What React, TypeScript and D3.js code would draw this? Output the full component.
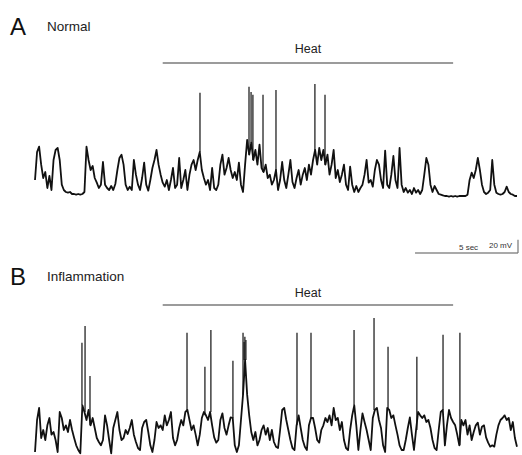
import React from "react";
import * as d3 from "d3";

// Sampling interval of the slow traces (s)
const DT = 0.1;

// Panel A (Normal): membrane trace sampled every 0.1 s (mV above rest)
const traceA: number[] = [
  24, 66, 74, 47, 27, 36, 12, 30, 9, 54, 69, 72, 54, 17, 9, 6, 5, 6, 3, 3,
  2, 3, 2, 3, 6, 74, 54, 39, 45, 27, 20, 12, 17, 51, 17, 12, 9, 15, 9, 18,
  39, 57, 62, 47, 17, 9, 14, 9, 54, 32, 17, 9, 27, 50, 17, 8, 24, 42, 54, 69,
  47, 32, 20, 14, 24, 9, 24, 42, 12, 17, 57, 12, 24, 39, 9, 32, 47, 54, 39, 54,
  66, 39, 27, 17, 24, 9, 42, 12, 9, 17, 47, 62, 32, 42, 57, 39, 27, 36, 24, 50,
  17, 6, 47, 84, 62, 80, 54, 69, 47, 77, 42, 36, 47, 27, 32, 17, 24, 39, 9, 24,
  51, 24, 12, 32, 54, 21, 12, 27, 39, 17, 32, 42, 24, 47, 32, 54, 69, 47, 72, 54,
  69, 47, 62, 32, 47, 69, 27, 39, 21, 32, 47, 17, 9, 44, 17, 6, 15, 6, 12, 17,
  32, 54, 20, 24, 14, 39, 54, 47, 24, 12, 68, 17, 12, 32, 60, 24, 12, 72, 17, 6,
  12, 5, 9, 3, 12, 5, 9, 3, 9, 32, 57, 47, 17, 6, 15, 9, 3, 2, 1, 0,
  0, -1, 0, -1, 0, -1, 0, 0, 0, 0, 2, 24, 35, 27, 39, 57, 39, 17, 6, 3,
  5, 9, 54, 17, 5, 3, 2, 3, 6, 14, 6, 3, 2, 0, 0,
];

// Panel A action potentials: times (s) and peak values (mV)
const spikeTimesA: number[] = [8.01, 10.39, 10.49, 10.58, 11.07, 11.7, 13.59, 14.08];
const spikePeaksA: number[] = [155, 164, 156, 152, 152, 159, 168, 152];

// Panel B (Inflammation): membrane trace sampled every 0.1 s (mV above trough)
const traceB: number[] = [
  0, 48, 66, 21, 33, 18, 40, 51, 26, 30, 18, 0, 60, 51, 33, 40, 30, 48, 33, 21,
  10, 3, -2, 70, 60, 48, 63, 40, 51, 36, 21, 15, 10, 18, 55, 40, 18, -2, 36, 48,
  60, 33, 18, 21, 33, 27, 36, 48, 26, 15, 6, 3, 36, 45, 48, 30, 10, 0, 18, 45,
  36, 40, 33, 55, 40, 48, 60, 21, 10, 18, 36, 48, 40, 60, 63, 48, 33, 40, 26, 10,
  26, 51, 60, 55, 48, 60, 40, 22, 14, 18, 48, 58, 36, 26, 40, 52, 51, 10, 0, 10,
  48, 86, 138, 86, 55, 30, 18, 30, 10, 18, 33, 40, 26, 36, 18, 33, 15, 8, 6, 33,
  63, 66, 48, 33, 18, 6, 3, 40, 55, 36, 18, 8, 3, 40, 51, 51, 36, 18, 14, 33,
  40, 51, 45, 55, 40, 66, 48, 51, 33, 45, 18, 6, 3, 33, 55, 70, 40, 3, 33, 58,
  45, 33, 18, 3, 51, 63, 66, 48, 36, 10, 0, 66, 63, 51, 55, 40, 26, 10, 3, 3,
  18, 36, 52, 26, 3, 33, 60, 55, 51, 55, 45, 48, 36, 18, 6, 3, 33, 60, 63, 10,
  40, 63, 51, 45, 40, 26, 10, 48, 40, 48, 26, 40, 18, 30, 40, 44, 26, 38, 40, 22,
  14, 8, 10, 8, 26, 40, 48, 51, 55, 48, 51, 33, 45, 21, 8,
];

// Panel B action potentials: times (s) and peak values (mV)
const spikeTimesB: number[] = [
  2.28, 2.43, 2.67, 7.38, 8.25, 8.54, 9.61, 10.1, 10.15, 10.19, 10.24,
  12.72, 13.4, 15.49, 16.46, 17.14, 18.54, 19.81, 20.63,
];
const spikePeaksB: number[] = [
  164, 189, 114, 179, 128, 183, 137, 179, 165, 173, 168,
  179, 179, 183, 201, 158, 143, 176, 179,
];

// Stimulus period (s) and scale bar values
const heatStart = 6.2;
const heatEnd = 20.3;
const scaleBarSec = 5;
const scaleBarMv = 20;

type Pt = { t: number; v: number };

function samplesToPts(samples: number[]): Pt[] {
  return samples.map((v, i) => ({ t: i * DT, v }));
}

function spikeBase(samples: number[], t: number): number {
  const i = Math.max(0, Math.min(samples.length - 1, Math.round(t / DT)));
  return samples[i];
}

const W = 522;
const H = 455;

export default function App() {
  const tMax = 23.45;
  const x = d3.scaleLinear().domain([0, tMax]).range([35, 518]);
  const yA = d3.scaleLinear().domain([0, 150]).range([196, 96]);
  const yB = d3.scaleLinear().domain([0, 150]).range([452, 352]);

  const lineA = d3.line<Pt>().x((d) => x(d.t)).y((d) => yA(d.v));
  const lineB = d3.line<Pt>().x((d) => x(d.t)).y((d) => yB(d.v));

  const font = "'Liberation Sans', Arial, Helvetica, sans-serif";
  const barX0 = x(tMax - scaleBarSec);
  const barX1 = x(tMax);
  const barY = 253;
  const barLen = yA(0) - yA(scaleBarMv);

  return (
    <svg
      width={W}
      height={H}
      style={{ position: "absolute", left: 0, top: 0, background: "#fff" }}
      fontFamily={font}
    >
      <rect x={0} y={0} width={W} height={H} fill="#fff" />
      {/* Panel A */}
      <text x={10} y={35} fontSize={24} fill="#111">A</text>
      <text x={47} y={31} fontSize={13.5} fill="#222">Normal</text>
      <text x={(x(heatStart) + x(heatEnd)) / 2} y={53} fontSize={12.5} textAnchor="middle" fill="#222">Heat</text>
      <line x1={x(heatStart)} x2={x(heatEnd)} y1={63} y2={63} stroke="#7a7a7a" strokeWidth={1.6} />
      <g stroke="#111" strokeWidth={1.2}>
        {spikeTimesA.map((t, k) => (
          <line key={k} x1={x(t)} x2={x(t)} y1={yA(spikeBase(traceA, t))} y2={yA(spikePeaksA[k])} />
        ))}
      </g>
      <path d={lineA(samplesToPts(traceA)) ?? ""} fill="none" stroke="#111" strokeWidth={1.8} strokeLinejoin="round" />

      {/* Scale bar */}
      <line x1={barX0} x2={barX1} y1={barY} y2={barY} stroke="#555" strokeWidth={1.2} />
      <line x1={barX1} x2={barX1} y1={barY} y2={barY - barLen} stroke="#777" strokeWidth={1.2} />
      <text x={459} y={250} fontSize={8} fill="#333">{`${scaleBarSec} sec`}</text>
      <text x={489} y={248} fontSize={8} fill="#333">{`${scaleBarMv} mV`}</text>

      {/* Panel B */}
      <text x={10} y={285} fontSize={24} fill="#111">B</text>
      <text x={47} y={281} fontSize={13.5} fill="#222">Inflammation</text>
      <text x={(x(heatStart) + x(heatEnd)) / 2} y={297} fontSize={12.5} textAnchor="middle" fill="#222">Heat</text>
      <line x1={x(heatStart)} x2={x(heatEnd)} y1={305} y2={305} stroke="#7a7a7a" strokeWidth={1.6} />
      <g stroke="#111" strokeWidth={1.2}>
        {spikeTimesB.map((t, k) => (
          <line key={k} x1={x(t)} x2={x(t)} y1={yB(spikeBase(traceB, t))} y2={yB(spikePeaksB[k])} />
        ))}
      </g>
      <path d={lineB(samplesToPts(traceB)) ?? ""} fill="none" stroke="#111" strokeWidth={1.8} strokeLinejoin="round" />
    </svg>
  );
}
